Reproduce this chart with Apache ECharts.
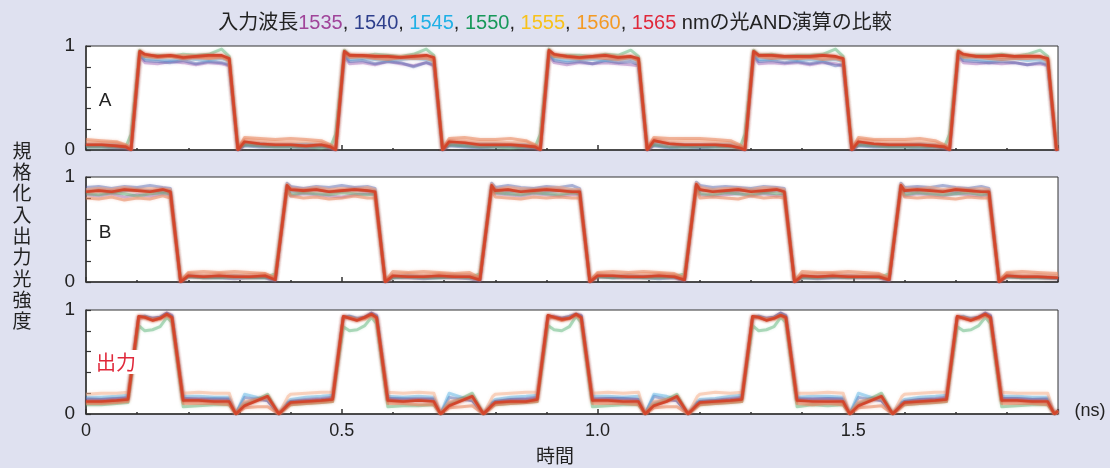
<!DOCTYPE html>
<html><head><meta charset="utf-8">
<script src="https://cdn.jsdelivr.net/npm/echarts@6/dist/echarts.min.js"></script>
<style>html,body{margin:0;padding:0;background:#dfe1f0;}#c{width:1110px;height:468px;}</style>
</head><body><div id="c"></div>
<script>
const seriesNames = ['1535','1540','1545','1550','1555','1560','1565'];
const xTickLabels = ['0','0.5','1.0','1.5'];

// Panel A (input A)
const timeA = [0,0.03,0.06,0.078,0.088,0.105,0.115,0.14,0.165,0.19,0.215,0.24,0.265,0.28,0.297,0.31,0.34,0.37,
0.4,0.43,0.46,0.478,0.488,0.505,0.515,0.54,0.565,0.59,0.615,0.64,0.665,0.68,0.697,0.71,0.74,0.77,
0.8,0.83,0.86,0.878,0.888,0.905,0.915,0.94,0.965,0.99,1.015,1.04,1.065,1.08,1.097,1.11,1.14,1.17,
1.2,1.23,1.26,1.278,1.288,1.305,1.315,1.34,1.365,1.39,1.415,1.44,1.465,1.48,1.497,1.51,1.54,1.57,
1.6,1.63,1.66,1.678,1.688,1.705,1.715,1.74,1.765,1.79,1.815,1.84,1.865,1.88,1.897,1.9];
const a1535 = [.04,.04,.03,.02,.00,.90,.84,.83,.85,.84,.82,.84,.83,.81,.00,.05,.04,.04,
.04,.03,.04,.02,.00,.90,.83,.84,.82,.85,.83,.81,.84,.81,.00,.05,.04,.03,
.04,.04,.03,.02,.00,.91,.84,.82,.84,.83,.84,.83,.82,.81,.00,.05,.03,.04,
.03,.04,.04,.02,.00,.90,.83,.84,.83,.84,.82,.84,.83,.81,.00,.05,.04,.04,
.04,.04,.03,.02,.00,.90,.84,.83,.84,.83,.84,.82,.83,.81,.00,.01];
const a1540 = [.03,.03,.02,.02,.00,.92,.86,.85,.84,.86,.83,.85,.84,.82,.00,.04,.03,.03,
.03,.02,.03,.02,.00,.92,.85,.86,.83,.85,.84,.80,.84,.82,.00,.04,.03,.02,
.03,.03,.02,.02,.00,.93,.86,.84,.85,.83,.86,.84,.85,.82,.00,.04,.02,.03,
.02,.03,.03,.02,.00,.92,.85,.86,.84,.85,.83,.85,.81,.82,.00,.04,.03,.03,
.03,.02,.03,.02,.00,.92,.86,.85,.84,.85,.84,.82,.84,.82,.00,.01];
const a1545 = [.05,.05,.05,.03,.01,.93,.88,.87,.86,.88,.87,.86,.88,.85,.01,.07,.06,.05,
.05,.06,.05,.03,.01,.93,.87,.88,.87,.86,.87,.88,.87,.85,.01,.07,.05,.06,
.06,.05,.05,.03,.01,.94,.88,.86,.87,.87,.86,.87,.88,.85,.01,.07,.06,.05,
.05,.05,.06,.03,.01,.93,.87,.87,.88,.86,.87,.86,.87,.85,.01,.07,.05,.05,
.05,.06,.05,.03,.01,.93,.88,.87,.86,.87,.88,.86,.87,.85,.01,.02];
const a1550 = [.03,.03,.03,.03,.15,.96,.90,.91,.90,.92,.91,.92,.97,.90,.02,.05,.04,.03,
.03,.03,.02,.03,.15,.96,.91,.90,.92,.91,.90,.92,.97,.91,.02,.05,.04,.03,
.03,.02,.03,.03,.15,.97,.90,.91,.91,.90,.92,.91,.96,.90,.02,.05,.03,.03,
.03,.03,.03,.02,.15,.96,.91,.92,.90,.91,.91,.92,.97,.90,.02,.05,.04,.03,
.03,.03,.03,.03,.15,.96,.90,.91,.91,.92,.90,.92,.96,.90,.02,.02];
const a1555 = [.08,.07,.07,.04,.01,.94,.91,.90,.90,.91,.90,.89,.90,.87,.01,.10,.09,.08,
.08,.08,.07,.04,.01,.94,.92,.90,.91,.89,.90,.90,.90,.87,.01,.09,.09,.08,
.08,.07,.08,.04,.01,.95,.91,.90,.89,.90,.91,.90,.90,.87,.01,.10,.08,.09,
.09,.08,.07,.04,.01,.94,.91,.91,.90,.90,.89,.90,.90,.87,.01,.10,.09,.08,
.08,.08,.07,.04,.01,.94,.92,.90,.90,.89,.90,.91,.90,.87,.01,.02];
const a1560 = [.10,.09,.08,.05,.01,.93,.90,.89,.90,.88,.89,.88,.89,.86,.01,.12,.11,.10,
.11,.10,.09,.05,.01,.93,.89,.90,.88,.87,.89,.88,.88,.86,.01,.11,.12,.10,
.10,.11,.09,.05,.01,.94,.90,.89,.88,.89,.88,.87,.89,.86,.01,.12,.11,.11,
.11,.10,.09,.05,.01,.93,.90,.88,.89,.88,.89,.87,.88,.86,.01,.12,.10,.10,
.10,.11,.09,.05,.01,.93,.89,.90,.88,.87,.88,.88,.89,.86,.01,.02];
const a1565 = [.05,.05,.04,.03,.00,.95,.92,.90,.91,.89,.90,.91,.91,.88,.00,.08,.06,.05,
.05,.04,.05,.03,.00,.95,.91,.91,.90,.90,.89,.90,.91,.89,.00,.08,.07,.05,
.05,.05,.04,.03,.00,.96,.92,.90,.89,.90,.91,.89,.90,.88,.00,.09,.06,.05,
.05,.05,.04,.02,.00,.95,.91,.91,.90,.90,.90,.91,.90,.88,.00,.08,.06,.05,
.05,.05,.04,.03,.00,.95,.92,.90,.90,.91,.90,.90,.90,.88,.00,.01];

// Panel B (input B)
const timeB = [0,0.025,0.05,0.075,0.1,0.125,0.15,0.165,0.185,0.2,0.23,0.26,0.29,0.32,0.35,0.37,0.393,
0.4,0.425,0.45,0.475,0.5,0.525,0.55,0.565,0.585,0.6,0.63,0.66,0.69,0.72,0.75,0.77,0.793,
0.8,0.825,0.85,0.875,0.9,0.925,0.95,0.965,0.985,1,1.03,1.06,1.09,1.12,1.15,1.17,1.193,
1.2,1.225,1.25,1.275,1.3,1.325,1.35,1.365,1.385,1.4,1.43,1.46,1.49,1.52,1.55,1.57,1.593,
1.6,1.625,1.65,1.675,1.7,1.725,1.75,1.765,1.785,1.8,1.83,1.86,1.9];
const b1535 = [.83,.82,.84,.81,.83,.82,.84,.83,.00,.06,.05,.05,.06,.05,.05,.02,.90,
.82,.84,.83,.82,.81,.83,.84,.83,.00,.05,.06,.05,.05,.05,.06,.02,.90,
.84,.83,.82,.84,.83,.82,.83,.83,.00,.06,.05,.06,.05,.06,.05,.02,.91,
.83,.82,.83,.84,.82,.84,.82,.83,.00,.05,.05,.05,.06,.05,.05,.02,.90,
.82,.84,.83,.82,.84,.83,.82,.83,.00,.06,.05,.05,.04];
const b1540 = [.90,.91,.89,.91,.90,.92,.90,.89,.00,.05,.04,.04,.03,.04,.04,.01,.94,
.91,.89,.91,.90,.92,.90,.91,.89,.00,.04,.04,.03,.04,.04,.03,.01,.94,
.90,.92,.90,.89,.91,.90,.92,.89,.00,.05,.04,.04,.04,.03,.04,.01,.95,
.92,.90,.91,.90,.89,.91,.90,.89,.00,.04,.03,.04,.04,.04,.04,.01,.94,
.90,.91,.90,.92,.90,.89,.91,.89,.00,.05,.04,.04,.03];
const b1545 = [.87,.88,.86,.87,.88,.87,.86,.87,.01,.06,.05,.05,.06,.05,.05,.02,.92,
.86,.87,.88,.86,.87,.88,.87,.87,.01,.05,.06,.05,.05,.06,.05,.02,.92,
.88,.86,.87,.88,.86,.87,.88,.87,.01,.06,.05,.06,.05,.05,.05,.02,.92,
.87,.88,.86,.87,.88,.86,.87,.87,.01,.05,.05,.05,.06,.05,.06,.02,.92,
.86,.87,.88,.87,.86,.88,.87,.87,.01,.06,.05,.05,.04];
const b1550 = [.84,.83,.85,.84,.82,.84,.85,.84,.01,.05,.04,.04,.05,.04,.04,.08,.90,
.83,.85,.84,.83,.85,.84,.83,.84,.01,.04,.05,.04,.04,.05,.04,.08,.90,
.85,.84,.83,.85,.84,.83,.85,.84,.01,.05,.04,.05,.04,.04,.05,.08,.91,
.84,.83,.85,.84,.83,.85,.84,.84,.01,.04,.04,.05,.04,.05,.04,.08,.90,
.83,.85,.84,.83,.84,.85,.83,.84,.01,.05,.04,.04,.04];
const b1555 = [.88,.89,.88,.90,.88,.89,.88,.88,.01,.08,.07,.08,.07,.07,.08,.03,.93,
.89,.88,.90,.88,.89,.88,.90,.88,.01,.07,.08,.07,.08,.07,.07,.03,.93,
.88,.90,.89,.88,.89,.90,.88,.88,.01,.08,.07,.07,.08,.08,.07,.03,.94,
.90,.88,.89,.89,.88,.90,.89,.88,.01,.07,.08,.08,.07,.07,.07,.03,.93,
.89,.88,.90,.88,.89,.88,.89,.88,.01,.08,.07,.07,.06];
const b1560 = [.80,.79,.81,.78,.80,.79,.82,.80,.01,.09,.10,.09,.10,.09,.08,.04,.88,
.82,.80,.81,.79,.80,.82,.80,.80,.01,.10,.09,.10,.09,.08,.09,.04,.88,
.81,.80,.79,.81,.80,.81,.80,.80,.01,.09,.10,.09,.10,.09,.08,.04,.89,
.80,.81,.80,.79,.82,.80,.81,.80,.01,.10,.09,.09,.10,.09,.08,.04,.88,
.81,.80,.81,.80,.79,.81,.80,.80,.01,.09,.10,.09,.08];
const b1565 = [.86,.87,.86,.88,.87,.86,.88,.86,.00,.06,.05,.06,.05,.05,.06,.02,.92,
.88,.87,.88,.86,.87,.88,.87,.86,.00,.06,.05,.05,.06,.05,.05,.02,.92,
.87,.88,.86,.87,.88,.87,.86,.86,.00,.06,.06,.05,.05,.06,.05,.02,.93,
.88,.86,.87,.88,.86,.87,.88,.86,.00,.06,.05,.06,.05,.05,.05,.02,.92,
.87,.88,.87,.86,.88,.87,.86,.86,.00,.06,.05,.05,.04];

// Panel C (output)
const timeC = [0,0.03,0.06,0.082,0.103,0.115,0.13,0.145,0.158,0.168,0.19,0.22,0.25,0.28,0.293,0.31,0.335,0.355,0.377,0.395,
0.4,0.43,0.46,0.482,0.503,0.515,0.53,0.545,0.558,0.568,0.59,0.62,0.65,0.68,0.693,0.71,0.735,0.755,0.777,0.795,
0.8,0.83,0.86,0.882,0.903,0.915,0.93,0.945,0.958,0.968,0.99,1.02,1.05,1.08,1.093,1.11,1.135,1.155,1.177,1.195,
1.2,1.23,1.26,1.282,1.303,1.315,1.33,1.345,1.358,1.368,1.39,1.42,1.45,1.48,1.493,1.51,1.535,1.555,1.577,1.595,
1.6,1.63,1.66,1.682,1.703,1.715,1.73,1.745,1.758,1.768,1.79,1.82,1.85,1.88,1.893,1.9];
const c1535 = [.15,.14,.15,.16,.92,.93,.92,.93,.97,.95,.15,.15,.14,.15,.00,.11,.15,.13,.00,.10,
.12,.14,.15,.16,.93,.93,.91,.93,.97,.95,.15,.14,.15,.15,.00,.11,.15,.13,.00,.10,
.12,.14,.15,.16,.92,.94,.92,.93,.96,.95,.15,.15,.15,.14,.00,.11,.14,.13,.00,.10,
.12,.13,.15,.16,.92,.93,.92,.93,.97,.95,.14,.15,.15,.15,.00,.11,.15,.13,.00,.10,
.12,.14,.15,.16,.93,.93,.91,.93,.97,.95,.15,.15,.14,.15,.00,.03];
const c1540 = [.14,.14,.15,.15,.93,.94,.92,.93,.97,.94,.15,.14,.15,.14,.00,.16,.14,.13,.00,.11,
.12,.13,.14,.15,.93,.94,.92,.93,.97,.94,.15,.15,.14,.14,.00,.16,.14,.13,.00,.11,
.12,.14,.14,.15,.94,.93,.92,.94,.96,.94,.14,.15,.15,.14,.00,.17,.14,.13,.00,.11,
.12,.13,.14,.15,.93,.94,.92,.93,.97,.94,.15,.14,.15,.14,.00,.16,.14,.13,.00,.11,
.12,.14,.14,.15,.93,.93,.92,.93,.97,.94,.15,.15,.14,.14,.00,.03];
const c1545 = [.16,.16,.17,.18,.93,.94,.91,.93,.96,.94,.17,.17,.16,.16,.00,.19,.16,.14,.00,.12,
.14,.16,.17,.18,.93,.94,.91,.93,.96,.94,.17,.16,.17,.16,.00,.20,.16,.14,.00,.12,
.14,.16,.17,.18,.94,.93,.91,.93,.96,.94,.17,.17,.16,.17,.00,.19,.17,.14,.00,.12,
.14,.15,.17,.18,.93,.94,.91,.93,.96,.94,.16,.17,.17,.16,.00,.20,.16,.14,.00,.12,
.14,.16,.17,.18,.93,.94,.91,.93,.96,.94,.17,.17,.16,.16,.00,.03];
const c1550 = [.09,.09,.10,.11,.85,.80,.81,.84,.93,.88,.07,.08,.09,.09,.00,.10,.14,.19,.00,.08,
.09,.10,.11,.12,.84,.80,.81,.85,.93,.87,.07,.08,.08,.09,.00,.10,.15,.20,.00,.08,
.09,.10,.11,.12,.85,.81,.80,.84,.94,.88,.07,.08,.09,.09,.00,.10,.14,.19,.00,.08,
.09,.10,.11,.12,.85,.80,.81,.84,.93,.88,.07,.09,.08,.09,.00,.10,.15,.20,.00,.08,
.09,.10,.11,.12,.84,.80,.81,.85,.93,.87,.07,.08,.09,.09,.00,.03];
const c1555 = [.19,.20,.20,.21,.93,.92,.90,.91,.95,.91,.20,.21,.20,.20,.00,.12,.14,.15,.00,.17,
.19,.20,.21,.21,.93,.92,.90,.91,.95,.91,.21,.20,.21,.20,.00,.12,.14,.15,.00,.17,
.19,.20,.21,.21,.94,.92,.90,.92,.95,.91,.20,.21,.20,.21,.00,.12,.14,.15,.00,.17,
.19,.21,.20,.21,.93,.92,.91,.91,.95,.91,.20,.20,.21,.20,.00,.12,.14,.15,.00,.17,
.19,.20,.21,.21,.93,.92,.90,.91,.95,.91,.21,.20,.20,.20,.00,.03];
const c1560 = [.10,.10,.11,.12,.92,.93,.91,.92,.95,.92,.10,.10,.10,.09,.00,.06,.07,.07,.00,.07,
.09,.10,.11,.12,.93,.93,.91,.92,.95,.92,.10,.10,.09,.09,.00,.06,.07,.08,.00,.07,
.09,.10,.11,.12,.92,.93,.90,.92,.95,.92,.10,.10,.10,.09,.00,.06,.07,.07,.00,.07,
.09,.10,.11,.12,.93,.93,.91,.92,.95,.92,.10,.09,.10,.09,.00,.06,.07,.08,.00,.07,
.09,.10,.11,.12,.92,.93,.91,.92,.95,.92,.10,.10,.10,.09,.00,.02];
const c1565 = [.12,.12,.13,.14,.94,.93,.90,.92,.96,.93,.13,.13,.12,.12,.00,.08,.13,.17,.00,.09,
.11,.12,.13,.14,.94,.92,.90,.93,.96,.93,.13,.12,.13,.12,.00,.08,.13,.17,.00,.09,
.11,.12,.12,.14,.95,.93,.91,.92,.96,.93,.13,.13,.12,.12,.00,.08,.12,.17,.00,.09,
.11,.12,.13,.14,.94,.93,.90,.92,.95,.93,.13,.12,.12,.12,.00,.08,.13,.17,.00,.09,
.11,.12,.13,.14,.94,.92,.90,.93,.96,.93,.13,.13,.12,.12,.00,.03];

const panels = [
  {time: timeA, vals: [a1535,a1540,a1545,a1550,a1555,a1560,a1565]},
  {time: timeB, vals: [b1535,b1540,b1545,b1550,b1555,b1560,b1565]},
  {time: timeC, vals: [c1535,c1540,c1545,c1550,c1555,c1560,c1565]}
];

const lineColors = ['rgba(160,90,175,0.4)','rgba(70,90,170,0.4)','rgba(70,170,225,0.4)','rgba(90,180,120,0.45)','rgba(245,175,140,0.5)','rgba(232,135,95,0.55)','#d2462c'];
const lineWidths = [3,3,3,3,3,3,2.6];

const FONT = '"Liberation Sans", "Noto Sans CJK JP", sans-serif';
const gridTops = [46,177,310];
const gridHeights = [104,105,104];

const grids = [], xAxes = [], yAxes = [], series = [];
panels.forEach((p, gi) => {
  grids.push({left:86, width:972, top:gridTops[gi], height:gridHeights[gi], show:true, backgroundColor:'#fff', borderColor:'#333', borderWidth:1});
  xAxes.push({type:'value', gridIndex:gi, min:0, max:1.9, interval:0.1,
    axisLine:{show:true, lineStyle:{color:'#333', width:1.5}},
    axisTick:{show:true, inside:true, length:2, lineStyle:{color:'#333', width:1.5}},
    axisLabel:{show:false}, splitLine:{show:false}});
  xAxes.push({type:'value', gridIndex:gi, min:0, max:1.9, interval:0.5, position:'bottom',
    axisLine:{show:false},
    axisTick:{show:true, inside:true, length:5, lineStyle:{color:'#333', width:1.5}},
    axisLabel:{show: gi===2, fontSize:18, color:'#222', fontFamily:FONT, margin:8,
      formatter: v => { const i = Math.round(v/0.5); return (Math.abs(v - i*0.5) < 1e-6 && i < xTickLabels.length) ? xTickLabels[i] : ''; }},
    splitLine:{show:false}});
  yAxes.push({type:'value', gridIndex:gi, min:0, max:1, interval:0.2,
    axisLine:{show:true, lineStyle:{color:'#333', width:1.5}},
    axisTick:{show:true, inside:true, length:5, lineStyle:{color:'#333', width:1.2}},
    axisLabel:{fontSize:19, color:'#222', fontFamily:FONT, margin:11,
      formatter: v => (v===0 ? '0' : (v===1 ? '1' : ''))},
    splitLine:{show:false}});
  p.vals.forEach((arr, si) => {
    series.push({type:'line', name:seriesNames[si], xAxisIndex:gi*2, yAxisIndex:gi,
      data: p.time.map((t,k) => [t, arr[k]]), showSymbol:false, symbol:'none', silent:true,
      lineStyle:{color:lineColors[si], width:lineWidths[si], join:'round', shadowBlur:3, shadowColor:lineColors[si]}, z: 2+si});
  });
});

const chart = echarts.init(document.getElementById('c'), null, {renderer:'canvas'});
chart.setOption({
  backgroundColor:'#dfe1f0',
  animation:false,
  title:{
    text:'入力波長{p|1535}, {n|1540}, {c|1545}, {g|1550}, {y|1555}, {o|1560}, {r|1565} nmの光AND演算の比較',
    left:'center', top:8,
    textStyle:{fontSize:20, fontWeight:'normal', color:'#222', fontFamily:FONT,
      rich:{
        p:{color:'#a0449a', fontSize:20, fontFamily:FONT},
        n:{color:'#2e3f8c', fontSize:20, fontFamily:FONT},
        c:{color:'#1fb0e6', fontSize:20, fontFamily:FONT},
        g:{color:'#17985a', fontSize:20, fontFamily:FONT},
        y:{color:'#f8c21a', fontSize:20, fontFamily:FONT},
        o:{color:'#f39a24', fontSize:20, fontFamily:FONT},
        r:{color:'#e0283a', fontSize:20, fontFamily:FONT}
      }}
  },
  grid:grids, xAxis:xAxes, yAxis:yAxes, series:series,
  graphic:[
    {type:'text', z:100, style:{text:'規\n格\n化\n入\n出\n力\n光\n強\n度', x:22, y:140, textAlign:'center', textVerticalAlign:'top', font:'19px "Noto Sans CJK JP"', lineHeight:21.3, fill:'#222'}},
    {type:'text', z:100, style:{text:'時間', x:555, y:456, textAlign:'center', textVerticalAlign:'middle', font:'19px "Noto Sans CJK JP"', fill:'#222'}},
    {type:'text', z:100, style:{text:'(ns)', x:1090, y:411, textAlign:'center', textVerticalAlign:'middle', font:'18px "Liberation Sans"', fill:'#222'}},
    {type:'text', z:100, style:{text:'A', x:105, y:101, textAlign:'center', textVerticalAlign:'middle', font:'19px "Liberation Sans"', fill:'#222'}},
    {type:'text', z:100, style:{text:'B', x:105, y:233, textAlign:'center', textVerticalAlign:'middle', font:'19px "Liberation Sans"', fill:'#222'}},
    {type:'text', z:100, style:{text:'出力', x:116, y:362, textAlign:'center', textVerticalAlign:'middle', font:'20px "Noto Sans CJK JP"', fill:'#e0283a', backgroundColor:'#fff', padding:[2,3]}}
  ]
});
</script>
</body></html>
